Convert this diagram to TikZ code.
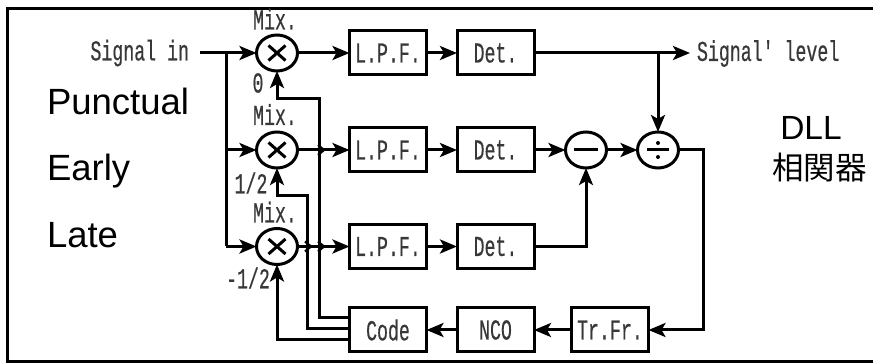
\documentclass[tikz,border=0pt]{standalone}
\usepackage{fontspec}
\usepackage{graphicx}
\setmainfont{Liberation Sans}
\newfontfamily\monof[FakeBold=0.5]{Liberation Mono}
\newfontfamily\cjkf{Noto Sans CJK JP}
\usetikzlibrary{arrows.meta,shapes.geometric}
\definecolor{lab}{HTML}{383838}
\newcommand{\lbl}[1]{\scalebox{0.76}[1.2]{\fontsize{24}{24}\selectfont\monof #1}}
\tikzset{
  wire/.style={line width=3pt,black},
  arr/.style={wire,-{Stealth[length=17pt,width=14pt,inset=4pt]}},
  blockbox/.style={draw,line width=3pt,minimum width=77pt,minimum height=44pt,inner sep=0pt,outer sep=0pt,text=lab},
  oper/.style={draw,ellipse,line width=3pt,minimum width=41pt,minimum height=36pt,inner sep=0pt,outer sep=0pt},
  tag/.style={inner sep=0pt,outer sep=0pt,text=lab},
  bigt/.style={inner sep=0pt,outer sep=0pt,anchor=base west,font=\fontsize{36.5}{37}\selectfont},
  chev/.style={line width=2.2pt,line join=miter}
}
\begin{document}
\begin{tikzpicture}[x=1pt,y=-1pt]
\useasboundingbox (0,0) rectangle (873,363);
\fill[white] (0,0) rectangle (873,363);
\coordinate (fa) at (873,8.3);
\coordinate (fb) at (7.7,8.3);
\coordinate (fc) at (7.7,361.5);
\coordinate (fd) at (873,361.5);
\draw[line width=3.5pt,line join=miter] (fa) -- (fb) -- (fc) -- (fd);

% operators
\node[oper] (m1) at (277,53) {};
\node[oper] (m2) at (277,150) {};
\node[oper] (m3) at (277,246.5) {};
\node[oper] (sub) at (586,150) {};
\node[oper] (dv) at (658,150) {};
\foreach \m in {m1,m2,m3}{
  \draw[line width=3pt] ([shift={(-8.5,-7.5)}]\m.center) -- ([shift={(8.5,7.5)}]\m.center);
  \draw[line width=3pt] ([shift={(-8.5,7.5)}]\m.center) -- ([shift={(8.5,-7.5)}]\m.center);
}
\draw[line width=3pt] ([xshift=-12pt]sub.center) -- ([xshift=12pt]sub.center);
\draw[line width=3pt] ([xshift=-11pt]dv.center) -- ([xshift=11pt]dv.center);
\fill ([yshift=-7pt]dv.center) circle (2pt);
\fill ([yshift=7pt]dv.center) circle (2pt);

% blocks
\node[blockbox] (l1) at (388,53) {\lbl{L.P.F.}};
\node[blockbox] (l2) at (388,150) {\lbl{L.P.F.}};
\node[blockbox] (l3) at (388,246.5) {\lbl{L.P.F.}};
\node[blockbox] (d1) at (495.5,53) {\lbl{Det.}};
\node[blockbox] (d2) at (495.5,150) {\lbl{Det.}};
\node[blockbox] (d3) at (495.5,246.5) {\lbl{Det.}};
\node[blockbox] (code) at (388,330) {\lbl{Code}};
\node[blockbox] (nco) at (495.5,330) {\lbl{NCO}};
\node[blockbox] (tr) at (610,330) {\lbl{Tr.Fr.}};

% labels
\node[tag,anchor=east] (sin) at (189,53) {\lbl{Signal in}};
\node[tag,anchor=west] (sout) at (697,53.5) {\lbl{Signal' level}};
\node[tag] (t1) at (275,19) {\lbl{Mix.}};
\node[tag] (t2) at (275,114.5) {\lbl{Mix.}};
\node[tag] (t3) at (275,212) {\lbl{Mix.}};
\node[tag] (o1) at (258,83) {\lbl{0}};
\node[tag] (o2) at (251,183) {\lbl{1/2}};
\node[tag] (o3) at (248,278) {\lbl{-1/2}};

\node[bigt] (pun) at (47,115) {Punctual};
\node[bigt] (ear) at (47,181) {Early};
\node[bigt] (lat) at (47,248) {Late};
\node[inner sep=0pt,outer sep=0pt,anchor=base,font=\fontsize{33.5}{34}\selectfont] (dll) at (811,140) {DLL};
\node[inner sep=0pt,outer sep=0pt,anchor=center,font=\fontsize{31.5}{34}\selectfont\cjkf] (cor) at (819.5,168) {相関器};

% input distribution
\coordinate (sa) at (200,53);
\coordinate (sj) at (226,53);
\coordinate (sj2) at (226,150);
\coordinate (sj3) at (226,246.5);
\draw[arr] (sa) -- (m1.west);
\draw[arr] (sj2) -- (m2.west);
\draw[wire,line join=miter] (sj) -- (sj3);
\draw[arr] (sj3) -- (m3.west);

% rows
\draw[arr] (m1.east) -- (l1.west);
\draw[arr] (m2.east) -- (l2.west);
\draw[arr] (m3.east) -- (l3.west);
\draw[arr] (l1.east) -- (d1.west);
\draw[arr] (l2.east) -- (d2.west);
\draw[arr] (l3.east) -- (d3.west);
\coordinate (so) at (690,53);
\coordinate (sb) at (658,53);
\draw[arr] (d1.east) -- (so);
\draw[arr] (sb) -- (dv.north);
\draw[arr] (d2.east) -- (sub.west);
\draw[arr] (sub.east) -- (dv.west);
\draw[arr] (d3.east) -| (sub.south);

% loop
\draw[arr,line join=miter] (dv.east) -- (703,150) -- (703,330) -- (tr.east);
\draw[arr] (tr.west) -- (nco.east);
\draw[arr] (nco.west) -- (code.east);

% code outputs
\coordinate (c1) at (348,318);
\coordinate (c2) at (348,329);
\coordinate (c3) at (348,340);
\draw[arr,line join=miter] (c1) -- (319.5,318) -- (319.5,99) -- (277,99) -- (m1.south);
\draw[arr,line join=miter] (c2) -- (307,329) -- (307,196) -- (277,196) -- (m2.south);
\draw[arr,line join=miter] (c3) -- (277,340) -- (m3.south);

% crossing marks
\coordinate (x1) at (324,150);
\coordinate (x2) at (311,246.5);
\coordinate (x3) at (324,246.5);
\foreach \c in {x1,x2,x3}{
  \draw[chev] ([shift={(-6,-5)}]\c) -- (\c) -- ([shift={(-6,5)}]\c);
}
\end{tikzpicture}
\end{document}
